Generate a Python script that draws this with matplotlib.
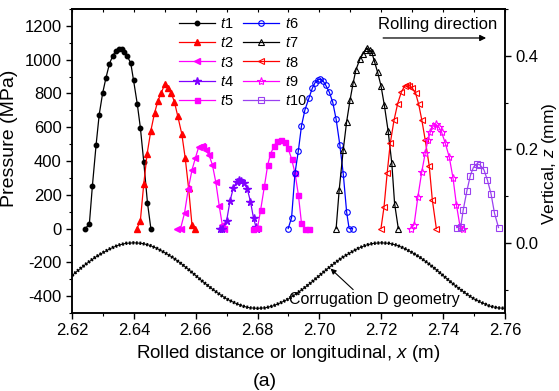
import numpy as np
from matplotlib import pyplot as plt
from matplotlib.ticker import MultipleLocator

# pressure curves, x in m, p in MPa
t1_x = [2.6242, 2.6256, 2.6266, 2.6278, 2.6288, 2.6299, 2.6310, 2.6321, 2.6332, 2.6342, 2.6353,
        2.6361, 2.6368, 2.6379, 2.6390, 2.6399, 2.6411, 2.6421, 2.6432, 2.6444, 2.6455]
t1_p = [0, 24, 254, 497, 675, 801, 894, 975, 1024, 1053, 1065, 1061, 1045, 1020, 979, 878, 738,
        598, 395, 152, 0]

t2_x = [2.6410, 2.6421, 2.6432, 2.6443, 2.6455, 2.6467, 2.6478, 2.6489, 2.6500, 2.6510, 2.6521,
        2.6531, 2.6542, 2.6555, 2.6566, 2.6577, 2.6588, 2.6599]
t2_p = [0, 46, 264, 444, 580, 685, 757, 805, 856, 833, 801, 751, 665, 560, 418, 239, 20, 0]

t3_x = [2.6540, 2.6551, 2.6564, 2.6576, 2.6588, 2.6599, 2.6610, 2.6619, 2.6625, 2.6632, 2.6643,
        2.6654, 2.6665, 2.6676, 2.6686, 2.6692]
t3_p = [0, 0, 93, 235, 347, 418, 485, 491, 485, 466, 436, 377, 274, 134, 22, 0]

t4_x = [2.6678, 2.6686, 2.6700, 2.6711, 2.6722, 2.6733, 2.6740, 2.6747, 2.6756, 2.6767, 2.6777,
        2.6787, 2.6795, 2.6799]
t4_p = [0, 0, 47, 164, 243, 278, 288, 284, 272, 233, 160, 61, 8, 0]

t5_x = [2.6786, 2.6800, 2.6810, 2.6822, 2.6833, 2.6842, 2.6854, 2.6864, 2.6876, 2.6889, 2.6899,
        2.6910, 2.6921, 2.6932, 2.6942, 2.6954, 2.6965]
t5_p = [0, 6, 111, 249, 379, 442, 491, 519, 525, 510, 474, 412, 328, 199, 32, 0, 0]

t6_x = [2.6899, 2.6910, 2.6921, 2.6932, 2.6942, 2.6953, 2.6966, 2.6977, 2.6986, 2.6994, 2.7002,
        2.7011, 2.7020, 2.7032, 2.7043, 2.7054, 2.7066, 2.7077, 2.7088, 2.7096, 2.7107]
t6_p = [0, 65, 328, 462, 608, 702, 772, 831, 864, 880, 884, 876, 850, 807, 748, 647, 495, 324,
        97, 0, 0]

t7_x = [2.7054, 2.7064, 2.7077, 2.7088, 2.7099, 2.7109, 2.7118, 2.7131, 2.7140, 2.7149, 2.7155,
        2.7162, 2.7169, 2.7177, 2.7188, 2.7199, 2.7210, 2.7222, 2.7234, 2.7243, 2.7255]
t7_p = [0, 231, 466, 633, 761, 862, 940, 1004, 1032, 1057, 1067, 1057, 1045, 995, 926, 846, 729,
        579, 387, 148, 0]

t8_x = [2.7199, 2.7209, 2.7219, 2.7229, 2.7241, 2.7253, 2.7265, 2.7276, 2.7283, 2.7291, 2.7299,
        2.7311, 2.7321, 2.7331, 2.7342, 2.7355, 2.7365, 2.7378]
t8_p = [0, 130, 328, 505, 640, 740, 809, 845, 851, 845, 835, 801, 735, 643, 525, 371, 170, 0]

t9_x = [2.7295, 2.7306, 2.7318, 2.7331, 2.7342, 2.7351, 2.7359, 2.7367, 2.7376, 2.7385, 2.7395,
        2.7407, 2.7420, 2.7432, 2.7443, 2.7455, 2.7464]
t9_p = [0, 22, 184, 337, 446, 525, 574, 605, 618, 604, 570, 505, 421, 298, 140, 8, 0]

t10_x = [2.7444, 2.7457, 2.7465, 2.7477, 2.7488, 2.7498, 2.7509, 2.7519, 2.7532, 2.7543, 2.7555,
         2.7566, 2.7579]
t10_p = [6, 12, 111, 225, 314, 363, 383, 377, 347, 288, 204, 91, 6]

# corrugation D geometry, vertical z (mm), sampled every 2.5 mm from 2.62 to 2.76 m
corr_z = [-0.070, -0.056, -0.043, -0.031, -0.021, -0.012, -0.005, -0.001, 0.000,
          -0.001, -0.005, -0.012, -0.021, -0.031, -0.043, -0.056, -0.070,
          -0.084, -0.097, -0.109, -0.120, -0.128, -0.135, -0.139, -0.140,
          -0.139, -0.135, -0.128, -0.120, -0.109, -0.097, -0.084, -0.070,
          -0.056, -0.043, -0.031, -0.021, -0.012, -0.005, -0.001, 0.000,
          -0.001, -0.005, -0.012, -0.021, -0.031, -0.043, -0.056, -0.070,
          -0.084, -0.097, -0.109, -0.120, -0.128, -0.135, -0.139, -0.140]
corr_x = np.linspace(2.62, 2.76, len(corr_z))

labels = ['$t$1', '$t$2', '$t$3', '$t$4', '$t$5', '$t$6', '$t$7', '$t$8', '$t$9', '$t$10']


def set_font():
    plt.rcParams['font.family'] = ['Liberation Sans', 'DejaVu Sans']
    plt.rcParams['mathtext.fontset'] = 'custom'
    plt.rcParams['mathtext.rm'] = 'Liberation Sans'
    plt.rcParams['mathtext.it'] = 'Liberation Sans:italic'
    plt.rcParams['axes.unicode_minus'] = False
    plt.rcParams['axes.linewidth'] = 1.1


def plot_chart():
    fig = plt.figure(figsize=(5.59, 3.91), dpi=100)
    ax = fig.add_axes([0.1288, 0.1995, 0.7746, 0.7775])
    ax2 = ax.twinx()

    lw = 0.9
    ax.plot(t1_x, t1_p, color='black', marker='o', ms=3.2, lw=lw, label=labels[0])
    ax.plot(t2_x, t2_p, color='red', marker='^', ms=3.8, lw=lw, label=labels[1])
    ax.plot(t3_x, t3_p, color='#FF00FF', marker='<', ms=3.8, lw=lw, label=labels[2])
    ax.plot(t4_x, t4_p, color='#8000FF', marker='*', ms=5.5, lw=lw, label=labels[3])
    ax.plot(t5_x, t5_p, color='#FF00FF', marker='s', ms=3.6, lw=lw, label=labels[4])
    ax.plot(t6_x, t6_p, color='#0000FF', marker='o', ms=4, mfc='none', mew=0.8, lw=lw, label=labels[5])
    ax.plot(t7_x, t7_p, color='black', marker='^', ms=4.2, mfc='none', mew=0.8, lw=lw, label=labels[6])
    ax.plot(t8_x, t8_p, color='red', marker='<', ms=4.5, mfc='none', mew=0.8, lw=lw, label=labels[7])
    ax.plot(t9_x, t9_p, color='#FF00FF', marker='*', ms=6, mfc='none', mew=0.8, lw=lw, label=labels[8])
    ax.plot(t10_x, t10_p, color='#9A40F0', marker='s', ms=4, mfc='none', mew=0.8, lw=lw, label=labels[9])

    ax.set_xlim(2.62, 2.76)
    ax.set_ylim(-500, 1300)
    ax.set_xticks(np.arange(2.62, 2.7601, 0.02))
    ax.xaxis.set_minor_locator(MultipleLocator(0.01))
    ax.set_yticks(np.arange(-400, 1201, 200))
    ax.yaxis.set_minor_locator(MultipleLocator(100))
    ax.xaxis.set_major_formatter(plt.FormatStrFormatter('%.2f'))
    ax.tick_params(axis='both', which='major', direction='out', length=4, width=1.0, labelsize=12)
    ax.tick_params(axis='both', which='minor', direction='out', length=2.5, width=0.8)
    ax.set_xlabel('Rolled distance or longitudinal, $x$ (m)', fontsize=13.5, labelpad=3)
    ax.set_ylabel('Pressure (MPa)', fontsize=14)
    ax.yaxis.set_label_coords(-0.125, 0.575)

    # small inward ticks on the top edge
    top = ax.secondary_xaxis('top')
    top.set_xticks(np.arange(2.62, 2.7601, 0.02))
    top.xaxis.set_minor_locator(MultipleLocator(0.01))
    top.tick_params(which='both', direction='in', labeltop=False, length=2.5, width=0.8)

    ax.legend(ncol=2, loc='upper left', bbox_to_anchor=(0.24, 0.982), frameon=False,
              fontsize=10.5, handlelength=2.5, handletextpad=0.35, columnspacing=0.6,
              labelspacing=0.35, borderaxespad=0.0, borderpad=0.2)

    # corrugation geometry on the right axis
    ax2.plot(corr_x, corr_z, color='black', lw=0.8)
    ax2.plot(corr_x, corr_z, color='black', lw=2.4, linestyle=(0, (0.55, 0.5)))
    ax2.set_ylim(-0.15, 0.5)
    ax2.set_yticks([0.0, 0.2, 0.4])
    ax2.yaxis.set_minor_locator(MultipleLocator(0.1))
    ax2.yaxis.set_major_formatter(plt.FormatStrFormatter('%.1f'))
    ax2.tick_params(axis='y', which='major', direction='out', length=4, width=1.0, labelsize=12)
    ax2.tick_params(axis='y', which='minor', direction='out', length=2.5, width=0.8)
    ax2.set_ylabel('Vertical, $z$ (mm)', fontsize=12.5)
    ax2.yaxis.set_label_coords(1.080, 0.49)

    ax2.text(2.6903, -0.121, 'Corrugation D geometry', fontsize=11.5, ha='left', va='center')
    ax2.annotate('', xy=(2.7036, -0.055), xytext=(2.7109, -0.100),
                 arrowprops=dict(arrowstyle='-|>', color='black', lw=0.8, mutation_scale=8,
                                 shrinkA=0, shrinkB=0))

    ax2.annotate('', xy=(2.7539, 0.438), xytext=(2.7206, 0.438),
                 arrowprops=dict(arrowstyle='-|>', color='black', lw=0.9, mutation_scale=9,
                                 shrinkA=0, shrinkB=0))
    ax2.text(2.7382, 0.466, 'Rolling direction', fontsize=12, ha='center', va='center')

    fig.text(0.474, 0.024, '(a)', fontsize=14, ha='center', va='center')
    plt.savefig('out.png', dpi=100)


if __name__ == '__main__':
    set_font()
    plot_chart()
